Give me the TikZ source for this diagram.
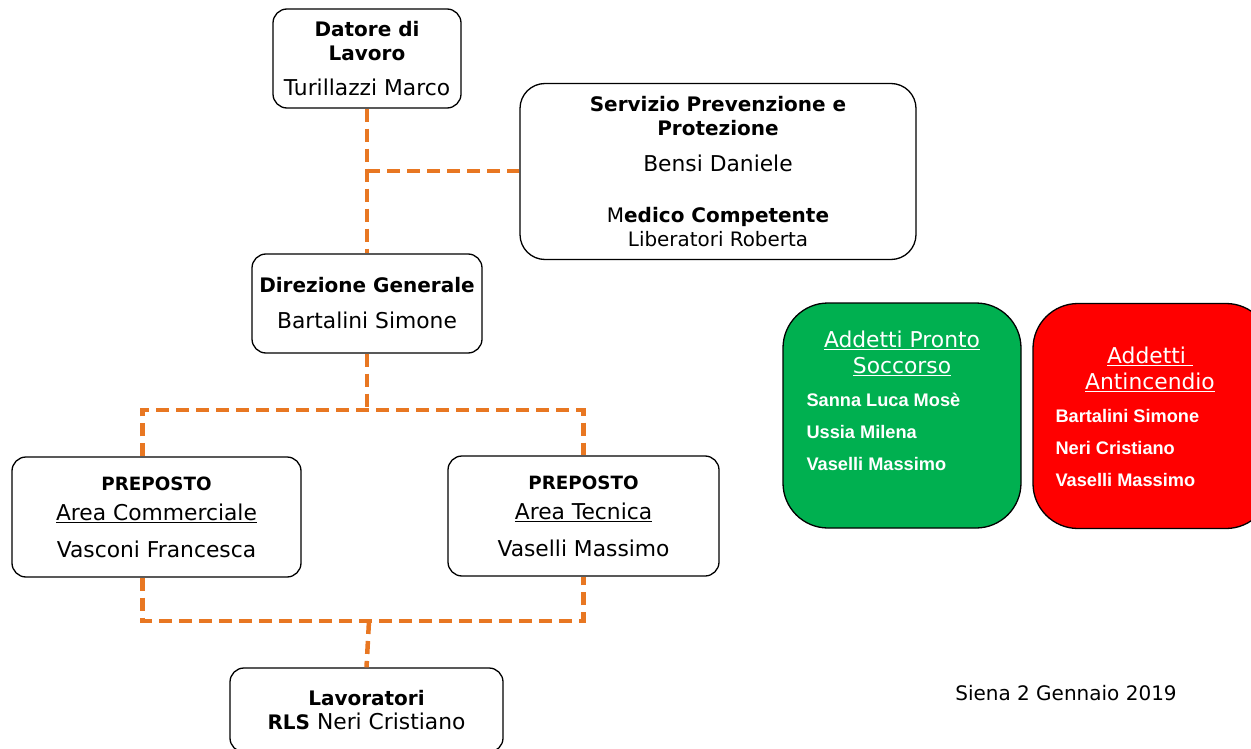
\documentclass[tikz,border=0pt]{standalone}
\usepackage{fontspec}
\setmainfont{DejaVu Sans}
\newfontfamily\arialfont{Liberation Sans}
\usepackage{xcolor}
\usepackage{tikz}
\definecolor{linkorange}{RGB}{232,119,34}
\definecolor{psgreen}{RGB}{0,176,80}
\definecolor{aired}{RGB}{255,0,0}
\newcommand{\headtxt}[1]{{\fontsize{20}{24}\selectfont\textbf{#1}}}

\begin{document}
\begin{tikzpicture}[x=1pt, y=-1pt, font=\fontsize{21.8}{24}\selectfont,
  box/.style={draw, line width=1.3pt, rounded corners=14pt, align=center, inner sep=0pt},
  grpbox/.style={draw, line width=1.3pt, rounded corners=45pt, minimum width=238pt, minimum height=225pt},
  grptitle/.style={text=white, align=center, font=\fontsize{21.8}{26}\selectfont},
  grplist/.style={text=white, align=left, font=\arialfont\bfseries\fontsize{18.2}{32}\selectfont},
  link/.style={draw=linkorange, line width=4.5pt, dash pattern=on 13pt off 7pt}]
  \useasboundingbox (0,0) rectangle (1251,749);
  % boxes of the chart
  \node[box, minimum width=188pt, minimum height=99pt] (dl) at (367,58.5)
    {\headtxt{Datore di}\\\headtxt{Lavoro}\\[11pt]Turillazzi Marco};
  \node[box, rounded corners=25pt, minimum width=396pt, minimum height=176pt] (spp) at (718,171.5)
    {\headtxt{Servizio Prevenzione e}\\\headtxt{Protezione}\\[12pt]Bensi Daniele\\[27pt]\headtxt{{\mdseries M}edico Competente}\\{\fontsize{19.9}{22}\selectfont Liberatori Roberta}};
  \node[box, minimum width=230pt, minimum height=99pt] (dg) at (367,303.5)
    {\headtxt{Direzione Generale}\\[12pt]Bartalini Simone};
  \node[box, minimum width=289pt, minimum height=120pt] (pac) at (156.5,517)
    {{\fontsize{18.3}{20}\selectfont\textbf{PREPOSTO}}\\[6pt]\underline{Area Commerciale}\\[13pt]Vasconi Francesca};
  \node[box, minimum width=271pt, minimum height=120pt] (pat) at (583.5,516)
    {{\fontsize{18.3}{20}\selectfont\textbf{PREPOSTO}}\\[6pt]\underline{Area Tecnica}\\[13pt]Vaselli Massimo};
  \node[box, minimum width=273pt, minimum height=84pt] (lw) at (366.5,710)
    {\headtxt{Lavoratori}\\\headtxt{RLS} Neri Cristiano};
  % dashed links
  \coordinate (j1) at (367,171);
  \coordinate (j2) at (367,410);
  \coordinate (j3) at (369,621);
  \draw[link] (dl.south) -- (dg.north);
  \draw[link] (j1) -- (j1 -| spp.west);
  \draw[link] (dg.south) -- (j2);
  \draw[link] ([xshift=-14pt]pac.north) |- (j2) -| (pat.north);
  \draw[link] ([xshift=-14pt]pac.south) |- (j3) -| (pat.south);
  \draw[link] (j3) -- (lw.north);
  % addetti
  \node[grpbox, fill=psgreen] (ps) at (902,415.5) {};
  \node[grptitle] (pstitle) at (902,353) {\underline{Addetti Pronto}\\\underline{Soccorso}};
  \node[grplist, anchor=west] (pslist) at (803,432) {Sanna Luca Mosè\\Ussia Milena\\Vaselli Massimo};
  \node[grpbox, fill=aired] (ai) at (1152,416) {};
  \node[grptitle] (aititle) at (1150,369) {\underline{Addetti\ }\\\underline{Antincendio}};
  \node[grplist, anchor=west] (ailist) at (1052,448) {Bartalini Simone\\Neri Cristiano\\Vaselli Massimo};
  \node[font=\fontsize{20}{23}\selectfont] (siena) at (1066,693) {Siena 2 Gennaio 2019};
\end{tikzpicture}
\end{document}
